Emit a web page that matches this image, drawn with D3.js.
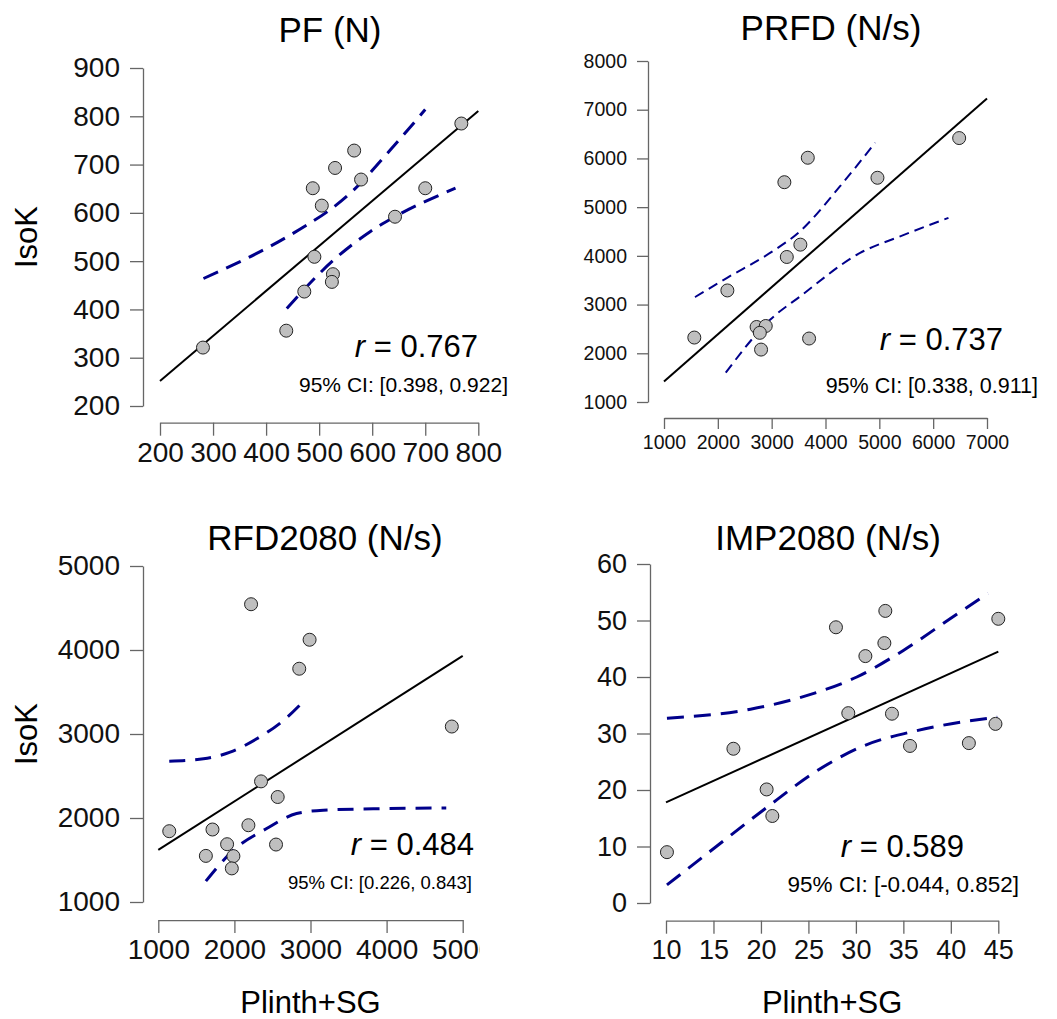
<!DOCTYPE html>
<html>
<head>
<meta charset="utf-8">
<script src="https://cdn.jsdelivr.net/npm/d3@7"></script>
<style>
  body { margin: 0; background: #fff; }
  svg { display: block; font-family: "Liberation Sans", Arial, sans-serif; }
</style>
</head>
<body>
<script>
// ---- Data ----

// PF (N)
const pfX = [281, 438, 472, 491, 526, 524, 505, 488, 530, 566, 579, 643, 700, 768]
const pfY = [321, 356, 437, 509, 473, 457, 615, 651, 693, 729, 669, 592, 651, 785]
const pfFitX = [200, 800]
const pfFitY = [252, 811]
const pfUpperX = [282, 423, 477, 515, 558, 634, 700]
const pfUpperY = [464, 540, 575, 602, 640, 730, 814]
const pfLowerX = [439, 527, 596, 643, 757]
const pfLowerY = [402, 502, 561, 592, 651]
const pfXTicks = [200, 300, 400, 500, 600, 700, 800]
const pfYTicks = [200, 300, 400, 500, 600, 700, 800, 900]

// PRFD (N/s)
const prfdX = [1563, 2177, 2720, 2890, 2780, 2803, 3695, 3281, 3533, 3236, 3671, 4965, 6483]
const prfdY = [2323, 3290, 2540, 2560, 2420, 2076, 2303, 3977, 4230, 5512, 6014, 5603, 6418]
const prfdFitX = [1000, 7000]
const prfdFitY = [1420, 7230]
const prfdUpperX = [1576, 2165, 2970, 3528, 4271, 4922]
const prfdUpperY = [3154, 3545, 4060, 4506, 5430, 6323]
const prfdLowerX = [2147, 2970, 3528, 4643, 5387, 6284]
const prfdLowerY = [1603, 2687, 3167, 4060, 4401, 4780]
const prfdXTicks = [1000, 2000, 3000, 4000, 5000, 6000, 7000]
const prfdYTicks = [1000, 2000, 3000, 4000, 5000, 6000, 7000, 8000]

// RFD2080 (N/s)
const rfdX = [1144, 1712, 1625, 1904, 1987, 1966, 2184, 2219, 2350, 2569, 2547, 2852, 2988, 4857]
const rfdY = [1843, 1863, 1549, 1688, 1546, 1400, 1914, 4545, 2436, 2250, 1684, 3777, 4122, 3089]
const rfdFitX = [1000, 5000]
const rfdFitY = [1620, 3930]
const rfdUpperX = [1144, 1594, 1944, 2294, 2643, 2918]
const rfdUpperY = [2677, 2705, 2784, 2943, 3160, 3398]
const rfdLowerX = [1625, 1987, 2424, 2817, 3167, 3953, 4784]
const rfdLowerY = [1249, 1617, 1875, 2053, 2092, 2112, 2119]
const rfdXTicks = [1000, 2000, 3000, 4000, 5000]
const rfdYTicks = [1000, 2000, 3000, 4000, 5000]

// IMP2080 (N/s)
const impX = [10.1, 17.1, 20.6, 21.2, 27.9, 29.2, 31.0, 33.0, 33.1, 33.8, 35.7, 41.9, 44.7, 45.0]
const impY = [9.0, 27.3, 20.1, 15.4, 48.8, 33.6, 43.7, 46.0, 51.7, 33.5, 27.8, 28.3, 31.7, 50.3]
const impFitX = [10, 45]
const impFitY = [17.8, 44.5]
const impUpperX = [10.1, 18.9, 24.8, 30.1, 35.0, 40.0, 43.9]
const impUpperY = [32.7, 34.3, 36.7, 40.0, 44.7, 50.4, 54.8]
const impLowerX = [10.1, 15.3, 20.3, 25.9, 30.8, 36.4, 44.9]
const impLowerY = [3.2, 10.0, 16.5, 23.4, 27.8, 30.5, 32.9]
const impXTicks = [10, 15, 20, 25, 30, 35, 40, 45]
const impYTicks = [0, 10, 20, 30, 40, 50, 60]

// ---- Panel layout ----
const width = 1057
const height = 1019

const panels = [
    {
        title: "PF (N)", r: "0.767", ci: "95% CI: [0.398, 0.922]",
        xs: pfX, ys: pfY, fitX: pfFitX, fitY: pfFitY,
        upX: pfUpperX, upY: pfUpperY, loX: pfLowerX, loY: pfLowerY,
        xTicks: pfXTicks, yTicks: pfYTicks,
        xDomain: [200, 800], xRange: [160, 478.3], yDomain: [200, 900], yRange: [406, 68],
        xAxisY: 422.7, yAxisX: 143, tickFont: 28, tick: 13,
        titleX: 330, titleY: 42, yLabel: true, xLabel: false,
        rX: 478, rY: 357, rFont: 31, ciX: 508, ciY: 392, ciFont: 21,
        dash: "16,9", dashW: 3
    },
    {
        title: "PRFD (N/s)", r: "0.737", ci: "95% CI: [0.338, 0.911]",
        xs: prfdX, ys: prfdY, fitX: prfdFitX, fitY: prfdFitY,
        upX: prfdUpperX, upY: prfdUpperY, loX: prfdLowerX, loY: prfdLowerY,
        xTicks: prfdXTicks, yTicks: prfdYTicks,
        xDomain: [1000, 7000], xRange: [664, 987], yDomain: [1000, 8000], yRange: [402, 61],
        xAxisY: 418, yAxisX: 648, tickFont: 19.5, tick: 11,
        titleX: 831, titleY: 40, yLabel: false, xLabel: false,
        rX: 1003, rY: 350, rFont: 31, ciX: 1038, ciY: 393, ciFont: 21.5,
        dash: "10,6", dashW: 2
    },
    {
        title: "RFD2080 (N/s)", r: "0.484", ci: "95% CI: [0.226, 0.843]",
        xs: rfdX, ys: rfdY, fitX: rfdFitX, fitY: rfdFitY,
        upX: rfdUpperX, upY: rfdUpperY, loX: rfdLowerX, loY: rfdLowerY,
        xTicks: rfdXTicks, yTicks: rfdYTicks,
        xDomain: [1000, 5000], xRange: [158.3, 462.7], yDomain: [1000, 5000], yRange: [902, 566],
        xAxisY: 920, yAxisX: 143, tickFont: 28, tick: 13,
        titleX: 325, titleY: 550, yLabel: true, xLabel: true, clipRight: 480,
        rX: 474, rY: 855, rFont: 31, ciX: 472, ciY: 889, ciFont: 18.5,
        dash: "16,10", dashW: 3
    },
    {
        title: "IMP2080 (N/s)", r: "0.589", ci: "95% CI: [-0.044, 0.852]",
        xs: impX, ys: impY, fitX: impFitX, fitY: impFitY,
        upX: impUpperX, upY: impUpperY, loX: impLowerX, loY: impLowerY,
        xTicks: impXTicks, yTicks: impYTicks,
        xDomain: [10, 45], xRange: [666, 998.3], yDomain: [0, 60], yRange: [903, 564],
        xAxisY: 920.7, yAxisX: 650, tickFont: 27, tick: 13,
        titleX: 828, titleY: 550, yLabel: false, xLabel: true,
        rX: 964, rY: 857, rFont: 31, ciX: 1019, ciY: 892, ciFont: 22.5,
        dash: "17,10", dashW: 3
    }
]

// ---- Draw ----
let svg = d3.select("body")
    .append("svg")
    .attr("width", width)
    .attr("height", height)

let drawPanel = (p, i) => {
    const x = d3.scaleLinear().domain(p.xDomain).range(p.xRange)
    const y = d3.scaleLinear().domain(p.yDomain).range(p.yRange)
    const g = svg.append("g").attr("class", "panel" + i)

    // Axes
    const gx = g.append("g")
        .attr("transform", `translate(0, ${p.xAxisY})`)
        .call(d3.axisBottom(x).tickValues(p.xTicks).tickSize(p.tick).tickSizeOuter(0).tickPadding(6).tickFormat(d3.format("d")))
    const gy = g.append("g")
        .attr("transform", `translate(${p.yAxisX}, 0)`)
        .call(d3.axisLeft(y).tickValues(p.yTicks).tickSize(p.tick).tickSizeOuter(0).tickPadding(10).tickFormat(d3.format("d")))
    for (const a of [gx, gy]) {
        a.select(".domain").attr("stroke", "#666").attr("stroke-width", 1.3)
        a.selectAll(".tick line").attr("stroke", "#666").attr("stroke-width", 1.3)
        a.selectAll(".tick text").attr("fill", "#111").style("font-size", p.tickFont + "px")
    }
    if (p.clipRight) {
        g.append("clipPath").attr("id", "clip" + i)
            .append("rect").attr("x", 0).attr("y", 0).attr("width", p.clipRight).attr("height", height)
        gx.attr("clip-path", `url(#clip${i})`)
    }

    // Regression line
    const fit = p.fitX.map((v, k) => [v, p.fitY[k]])
    g.append("path")
        .datum(fit)
        .attr("d", d3.line().x(d => x(d[0])).y(d => y(d[1])))
        .attr("fill", "none")
        .attr("stroke", "#000")
        .attr("stroke-width", 2)

    // Confidence bands
    const bands = [
        p.upX.map((v, k) => [v, p.upY[k]]),
        p.loX.map((v, k) => [v, p.loY[k]])
    ]
    g.selectAll(".band")
        .data(bands).enter().append("path")
        .attr("class", "band")
        .attr("d", d3.line().x(d => x(d[0])).y(d => y(d[1])).curve(d3.curveMonotoneX))
        .attr("fill", "none")
        .attr("stroke", "#00008B")
        .attr("stroke-width", p.dashW)
        .attr("stroke-dasharray", p.dash)

    // Points
    const pts = p.xs.map((v, k) => [v, p.ys[k]])
    g.selectAll(".pt")
        .data(pts).enter().append("circle")
        .attr("class", "pt")
        .attr("cx", d => x(d[0]))
        .attr("cy", d => y(d[1]))
        .attr("r", 6.5)
        .attr("fill", "#bfbfbf")
        .attr("stroke", "#222")
        .attr("stroke-width", 1)

    // Title
    g.append("text")
        .attr("x", p.titleX)
        .attr("y", p.titleY)
        .attr("text-anchor", "middle")
        .style("font-size", "35px")
        .text(p.title)

    // r and CI
    const rt = g.append("text")
        .attr("x", p.rX)
        .attr("y", p.rY)
        .attr("text-anchor", "end")
        .style("font-size", p.rFont + "px")
    rt.append("tspan").style("font-style", "italic").text("r")
    rt.append("tspan").text(" = " + p.r)
    g.append("text")
        .attr("x", p.ciX)
        .attr("y", p.ciY)
        .attr("text-anchor", "end")
        .style("font-size", p.ciFont + "px")
        .text(p.ci)

    // Axis titles
    if (p.yLabel) {
        const cy = (p.yRange[0] + p.yRange[1]) / 2
        g.append("text")
            .attr("transform", `translate(37, ${cy}) rotate(-90)`)
            .attr("text-anchor", "middle")
            .style("font-size", "31px")
            .text("IsoK")
    }
    if (p.xLabel) {
        g.append("text")
            .attr("x", (p.xRange[0] + p.xRange[1]) / 2)
            .attr("y", 1013)
            .attr("text-anchor", "middle")
            .style("font-size", "31px")
            .text("Plinth+SG")
    }
}

panels.forEach(drawPanel)
</script>
</body>
</html>
